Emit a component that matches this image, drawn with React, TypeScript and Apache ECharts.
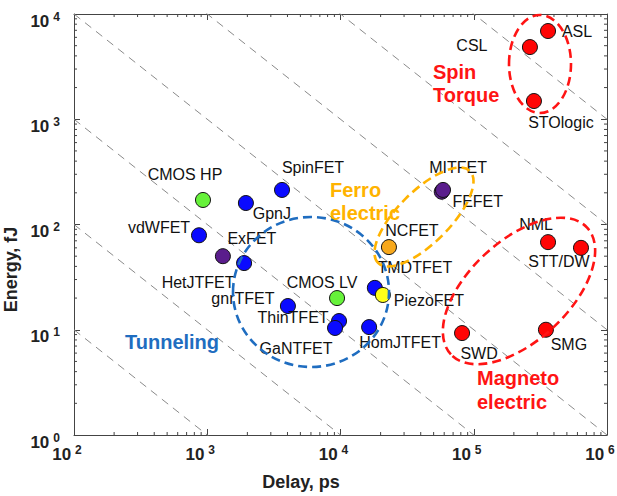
import React, { useEffect, useRef } from 'react';
import * as echarts from 'echarts';

// ---- data ----
const deviceNames = [
  'CMOS HP', 'CMOS LV', 'SpinFET', 'GpnJ', 'vdWFET', 'ExFET', 'HetJTFET', 'gnrTFET',
  'ThinTFET', 'GaNTFET', 'HomJTFET', 'TMDTFET', 'PiezoFET', 'NCFET', 'FEFET', 'MITFET',
  'CSL', 'ASL', 'STOlogic', 'NML', 'STT/DW', 'SWD', 'SMG',
];
const delays = [
  929, 9420, 3640, 1950, 867, 1310, 1890, 4030,
  9750, 9100, 16400, 18100, 20800, 23100, 57500, 58800,
  264000, 361000, 283000, 361000, 638000, 81700, 348000,
];
const energies = [
  171, 20, 213, 160, 79, 50, 43, 16.8,
  12.1, 10.4, 10.6, 25, 21.4, 61, 205, 213,
  4850, 6890, 1490, 68, 60, 9.3, 10.0,
];
const families = [
  'cmos', 'cmos', 'tunnel', 'tunnel', 'tunnel', 'other', 'tunnel', 'tunnel',
  'tunnel', 'tunnel', 'tunnel', 'tunnel', 'piezo', 'ferro', 'other', 'other',
  'spin', 'spin', 'spin', 'spin', 'spin', 'spin', 'spin',
];
// energy-delay product guide lines (fJ*ps)
const edpLevels = [1e3, 1e4, 1e5, 1e6, 1e7, 1e8, 1e9];
const xMin = 1e2;
const xMax = 1e6;
const yMin = 1e0;
const yMax = 1e4;

// ---- styling / layout ----
const familyColors: Record<string, string> = {
  cmos: '#66f23a',
  tunnel: '#0a0aff',
  other: '#5a1d8c',
  piezo: '#ffff1a',
  ferro: '#f7a81c',
  spin: '#ff0505',
};
const labelOffsets: Record<string, [number, number]> = {
  'CMOS HP': [-18, -25], 'CMOS LV': [-15, -16], SpinFET: [31, -22], GpnJ: [26, 10],
  vdWFET: [-40, -8], ExFET: [29, -18], HetJTFET: [-46, 19], gnrTFET: [-45, -8],
  ThinTFET: [-46, -4], GaNTFET: [-39, 21], HomJTFET: [31, 15], TMDTFET: [40, -20],
  PiezoFET: [46, 6], NCFET: [23, -17], FEFET: [36, 10], MITFET: [15, -22],
  CSL: [-58, -2], ASL: [29, 0], STOlogic: [27, 21], NML: [-12, -18],
  'STT/DW': [-22, 14], SWD: [17, 20], SMG: [23, 15],
};
const FONT = '"Liberation Sans", Arial, Helvetica, sans-serif';
const AX = '#444';

function minorTicks(lo: number, hi: number): number[] {
  const out: number[] = [];
  for (let d = lo; d < hi; d *= 10) {
    for (let k = 2; k <= 9; k++) out.push(d * k);
  }
  return out;
}

const tickRich = {
  b: { fontSize: 17, fontWeight: 'bold', color: '#222', fontFamily: FONT },
  s: { fontSize: 12, fontWeight: 'bold', color: '#222', fontFamily: FONT, padding: [0, 0, 9, 4] },
};
const tickFormatter = (v: number) => `{b|10}{s|${Math.round(Math.log10(v))}}`;

export default function App() {
  const ref = useRef<HTMLDivElement>(null);
  useEffect(() => {
    if (!ref.current) return;
    const chart = echarts.init(ref.current, undefined, { renderer: 'svg' });

    const baseAxis = {
      type: 'log' as const,
      logBase: 10,
      axisLine: { show: true, lineStyle: { color: AX, width: 1 } },
      axisTick: { show: true, inside: true, length: 6, lineStyle: { color: AX } },
      splitLine: { show: false },
      minorTick: { show: false },
    };

    const edpSeries = edpLevels.map((p) => ({
      type: 'line',
      silent: true,
      symbol: 'none',
      clip: true,
      z: 1,
      lineStyle: { color: '#8a8a8a', width: 1, type: [8, 6] },
      data: [
        [xMin, p / xMin],
        [xMax, p / xMax],
      ],
    }));

    const tickLen = 3;
    const xMinorSeries = {
      type: 'custom',
      silent: true,
      z: 3,
      data: minorTicks(xMin, xMax).map((v) => [v, yMin]),
      renderItem: (_p: any, api: any) => {
        const v = api.value(0);
        const b = api.coord([v, yMin]);
        const t = api.coord([v, yMax]);
        return {
          type: 'group',
          children: [
            { type: 'line', shape: { x1: b[0], y1: b[1], x2: b[0], y2: b[1] - tickLen }, style: { stroke: AX, lineWidth: 1 } },
            { type: 'line', shape: { x1: t[0], y1: t[1], x2: t[0], y2: t[1] + tickLen }, style: { stroke: AX, lineWidth: 1 } },
          ],
        };
      },
    };
    const yMinorSeries = {
      type: 'custom',
      silent: true,
      z: 3,
      data: minorTicks(yMin, yMax).map((v) => [xMin, v]),
      renderItem: (_p: any, api: any) => {
        const v = api.value(1);
        const l = api.coord([xMin, v]);
        const r = api.coord([xMax, v]);
        return {
          type: 'group',
          children: [
            { type: 'line', shape: { x1: l[0], y1: l[1], x2: l[0] + tickLen, y2: l[1] }, style: { stroke: AX, lineWidth: 1 } },
            { type: 'line', shape: { x1: r[0], y1: r[1], x2: r[0] - tickLen, y2: r[1] }, style: { stroke: AX, lineWidth: 1 } },
          ],
        };
      },
    };

    const scatter = {
      type: 'scatter',
      z: 4,
      symbol: 'circle',
      symbolSize: 15,
      itemStyle: { borderColor: '#111', borderWidth: 1, opacity: 1 },
      label: {
        show: true,
        position: 'inside',
        formatter: '{b}',
        color: '#111',
        fontSize: 16,
        fontFamily: FONT,
      },
      data: deviceNames.map((n, i) => ({
        name: n,
        value: [delays[i], energies[i]],
        itemStyle: { color: familyColors[families[i]] },
        label: { offset: labelOffsets[n] },
      })),
    };

    const dash = [9, 5];
    const groupText = (x: number, y: number, text: string, fill: string) => ({
      type: 'text',
      x,
      y,
      z: 10,
      style: {
        text,
        fill,
        fontSize: 20,
        fontWeight: 'bold',
        fontFamily: FONT,
        align: 'left',
        verticalAlign: 'middle',
      },
    });
    const ring = (x: number, y: number, rx: number, ry: number, rotation: number, stroke: string) => ({
      type: 'ellipse',
      x,
      y,
      rotation,
      z: 10,
      shape: { cx: 0, cy: 0, rx, ry },
      style: { fill: 'none', stroke, lineWidth: 2.6, lineDash: dash },
      silent: true,
    });

    chart.setOption({
      animation: false,
      backgroundColor: '#fff',
      grid: { left: 74, right: 10, top: 14, bottom: 61, outerBoundsMode: 'none', containLabel: false },
      xAxis: [
        {
          ...baseAxis,
          position: 'bottom',
          min: xMin,
          max: xMax,
          name: 'Delay, ps',
          nameLocation: 'middle',
          nameGap: 38,
          nameTextStyle: { fontSize: 18, fontWeight: 'bold', color: '#222', fontFamily: FONT, padding: [0, 79, 0, 0] },
          axisLabel: {
            show: true,
            margin: 9,
            formatter: tickFormatter,
            rich: tickRich,
            padding: [0, 14, 0, 0],
            showMinLabel: true,
            showMaxLabel: true,
          },
        },
        {
          ...baseAxis,
          position: 'top',
          min: xMin,
          max: xMax,
          axisLabel: { show: false },
        },
      ],
      yAxis: [
        {
          ...baseAxis,
          position: 'left',
          min: yMin,
          max: yMax,
          name: 'Energy, fJ',
          nameLocation: 'middle',
          nameGap: 45,
          nameTextStyle: { fontSize: 18, fontWeight: 'bold', color: '#222', fontFamily: FONT, padding: [0, 90, 0, 0] },
          axisLabel: {
            show: true,
            margin: 14,
            formatter: tickFormatter,
            rich: tickRich,
            padding: [14, 0, 0, 0],
            showMinLabel: true,
            showMaxLabel: true,
          },
        },
        {
          ...baseAxis,
          position: 'right',
          min: yMin,
          max: yMax,
          axisLabel: { show: false },
        },
      ],
      series: [...edpSeries, xMinorSeries, yMinorSeries, scatter],
      graphic: [
        ring(311, 292, 78, 75, 0, '#1f6dc0'),
        ring(424, 217, 65, 26, Math.PI / 4, '#ffb300'),
        ring(540, 64, 31, 49, 0, '#ff1414'),
        ring(519, 291, 93, 50, 0.75, '#ff1414'),
        groupText(125, 342, 'Tunneling', '#1f6dc0'),
        groupText(330, 190, 'Ferro', '#ffb300'),
        groupText(330, 213, 'electric', '#ffb300'),
        groupText(433, 72, 'Spin', '#ff1414'),
        groupText(433, 95, 'Torque', '#ff1414'),
        groupText(477, 378, 'Magneto', '#ff1414'),
        groupText(477, 402, 'electric', '#ff1414'),
      ],
    });
    return () => chart.dispose();
  }, []);
  return (
    <div
      ref={ref}
      style={{ position: 'fixed', left: 0, top: 0, width: 617, height: 496, background: '#fff' }}
    />
  );
}
